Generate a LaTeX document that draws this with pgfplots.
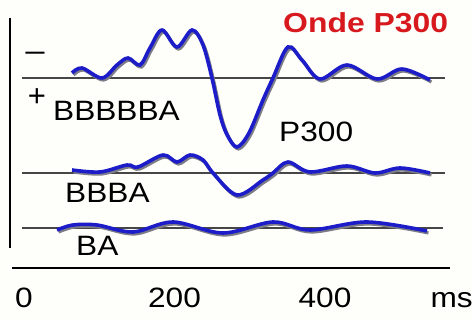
\documentclass[border=0pt]{standalone}
\usepackage{pgfplots}
\pgfplotsset{compat=1.18}
\usepackage{pgfplotstable}
\usepackage{graphicx}
\usepackage{fontspec}
\setmainfont{Liberation Sans}
\definecolor{trace}{RGB}{28,28,200}
\definecolor{shadow}{RGB}{125,125,135}
\definecolor{baseln}{RGB}{70,70,70}
\definecolor{titlered}{RGB}{215,25,30}
\definecolor{bg}{RGB}{254,254,251}
% t = time (ms), v = vertical position (px from top, negative up)
\pgfplotstableread{
t v
63.8 73
77.1 68
103.7 78
123.6 65
138.2 58
154.2 65
167.4 48
183.4 30
203.3 47
223.3 30
237.9 45
249.8 78
260.5 115
270.0 135
283.1 147
299.0 133
317.6 100
330.9 78
350.8 47
369.4 60
393.4 79
429.2 65
469.1 79
502.3 69
539.5 80
}\topTrace
\pgfplotstableread{
t v
63.8 170
101.0 172
136.9 165
151.5 167
184.7 155
203.3 162
220.6 155
237.9 160
251.2 173
283.1 195
317.6 180
330.9 173
350.8 162
380.1 172
429.2 166
466.4 173
499.7 168
539.5 173
}\midTrace
\pgfplotstableread{
t v
43.9 230
65.1 225
97.0 225
144.9 232
198.0 222
264.5 233
330.9 222
380.1 230
455.8 222
535.5 231
}\botTrace
\newcommand{\lab}[1]{\fontsize{28}{30}\selectfont\scalebox{1.13}[1]{#1}}
\begin{document}
\begin{tikzpicture}
\begin{axis}[
  width=473pt, height=320pt, scale only axis,
  xmin=-31.9, xmax=596.7, ymin=0, ymax=320, y dir=reverse,
  hide axis, clip=false,
]
% background
\addplot[draw=none, fill=bg] coordinates {(-31.9,0) (596.7,0) (596.7,320) (-31.9,320)} -- cycle;
% axes
\addplot[black, line width=2pt] coordinates {(-18.6,18) (-18.6,248)};
\addplot[black, line width=2pt] coordinates {(-15.9,268) (566.1,268)};
% baselines
\addplot[baseln, line width=1.4pt] coordinates {(-2.7,78) (559.5,78)};
\addplot[baseln, line width=1.4pt] coordinates {(-2.7,173) (559.5,173)};
\addplot[baseln, line width=1.4pt] coordinates {(-2.7,228) (556.8,228)};
% shadows
\addplot[shadow, line width=3.2pt, smooth, tension=0.55] table[x expr=\thisrow{t}+2, y expr=\thisrow{v}+2] {\topTrace};
\addplot[shadow, line width=3.2pt, smooth, tension=0.55] table[x expr=\thisrow{t}+2, y expr=\thisrow{v}+2] {\midTrace};
\addplot[shadow, line width=3.2pt, smooth, tension=0.55] table[x expr=\thisrow{t}+2, y expr=\thisrow{v}+2] {\botTrace};
% traces
\addplot[trace, line width=3.6pt, smooth, tension=0.55] table[x=t, y=v] {\topTrace};
\addplot[trace, line width=3.6pt, smooth, tension=0.55] table[x=t, y=v] {\midTrace};
\addplot[trace, line width=3.6pt, smooth, tension=0.55] table[x=t, y=v] {\botTrace};
% labels
\node[anchor=center, inner sep=0pt] at (axis cs:14.6,57) {\fontsize{28}{30}\selectfont\scalebox{1.4}[1]{−}};
\node[anchor=center, inner sep=0pt] at (axis cs:17.3,98) {\fontsize{31}{32}\selectfont +};
\node[anchor=base west, inner sep=0pt] at (axis cs:38.5,121) {\lab{BBBBBA}};
\node[anchor=base west, inner sep=0pt] at (axis cs:338.9,142) {\lab{P300}};
\node[anchor=base west, inner sep=0pt] at (axis cs:54.5,203) {\lab{BBBA}};
\node[anchor=base west, inner sep=0pt] at (axis cs:69.1,256) {\lab{BA}};
\node[anchor=base west, inner sep=0pt, text=titlered] at (axis cs:344.2,33) {\fontsize{27.5}{30}\selectfont\scalebox{1.16}[1]{\bfseries Onde P300}};
% tick labels
\node[anchor=base, inner sep=0pt] at (axis cs:0,308) {\lab{0}};
\node[anchor=base, inner sep=0pt] at (axis cs:200,308) {\lab{200}};
\node[anchor=base, inner sep=0pt] at (axis cs:400,308) {\lab{400}};
\node[anchor=base west, inner sep=0pt] at (axis cs:540,308) {\lab{ms}};
\end{axis}
\pgfresetboundingbox
\useasboundingbox (current axis.south west) rectangle (current axis.north east);
\end{tikzpicture}
\end{document}
